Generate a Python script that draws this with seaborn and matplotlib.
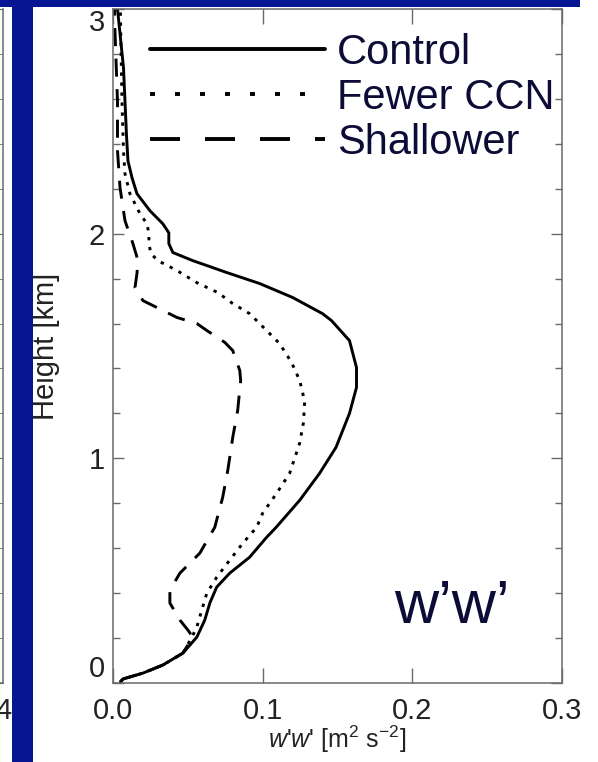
import numpy as np
import pandas as pd
import matplotlib
matplotlib.use("Agg")
import matplotlib.pyplot as plt
from matplotlib.lines import Line2D
from matplotlib.patches import Rectangle
from matplotlib.ticker import MultipleLocator, FormatStrFormatter
import seaborn as sns

# ---- data ----
control_h = [0.005, 0.018, 0.044, 0.08, 0.133, 0.204, 0.28, 0.356, 0.427, 0.489, 0.56, 0.649,
             0.693, 0.813, 0.933, 1.049, 1.2, 1.316, 1.404, 1.524, 1.613, 1.644, 1.716, 1.778,
             1.827, 1.88, 1.916, 1.956, 2.004, 2.044, 2.102, 2.178, 2.249, 2.324, 2.44, 2.74, 3.0]
control_w = [0.005, 0.0067, 0.020, 0.0333, 0.0467, 0.056, 0.0613, 0.0647, 0.0693, 0.078, 0.0913,
             0.1027, 0.109, 0.1247, 0.138, 0.149, 0.158, 0.1627, 0.1627, 0.158, 0.146, 0.140,
             0.120, 0.098, 0.076, 0.0533, 0.040, 0.0373, 0.0373, 0.0333, 0.0247, 0.016, 0.0127,
             0.010, 0.009, 0.007, 0.003]

fewer_h = [0.005, 0.018, 0.044, 0.08, 0.133, 0.204, 0.249, 0.324, 0.40, 0.471, 0.547, 0.622,
           0.693, 0.756, 0.844, 0.933, 1.067, 1.16, 1.249, 1.293, 1.347, 1.427, 1.511, 1.613,
           1.644, 1.689, 1.738, 1.782, 1.836, 1.88, 1.911, 1.956, 2.0, 2.044, 2.089, 2.178,
           2.267, 2.37, 2.59, 2.96, 3.0]
fewer_w = [0.005, 0.0067, 0.020, 0.0333, 0.0467, 0.0527, 0.056, 0.0593, 0.0627, 0.0693, 0.078,
           0.0867, 0.096, 0.100, 0.1093, 0.118, 0.1247, 0.1273, 0.128, 0.1267, 0.1247, 0.1193,
           0.1113, 0.096, 0.0913, 0.080, 0.070, 0.056, 0.0427, 0.030, 0.0253, 0.024, 0.024,
           0.0227, 0.018, 0.0113, 0.008, 0.007, 0.006, 0.005, 0.005]

shallow_h = [0.005, 0.018, 0.044, 0.08, 0.133, 0.204, 0.236, 0.28, 0.356, 0.413, 0.489, 0.578,
             0.693, 0.827, 0.947, 1.093, 1.213, 1.347, 1.391, 1.48, 1.516, 1.569, 1.6, 1.627,
             1.702, 1.76, 1.822, 1.88, 1.956, 2.058, 2.204, 2.37, 2.59, 2.96, 3.0]
shallow_w = [0.005, 0.0067, 0.020, 0.0333, 0.0467, 0.0533, 0.050, 0.0447, 0.038, 0.038, 0.0447,
             0.058, 0.068, 0.0733, 0.0767, 0.080, 0.0833, 0.0853, 0.0847, 0.080, 0.0747, 0.0627,
             0.056, 0.0427, 0.020, 0.0147, 0.016, 0.0167, 0.0133, 0.008, 0.0047, 0.003, 0.003,
             0.001, 0.001]

series_names = ["Control", "Fewer CCN", "Shallower"]
x_ticks = [0.0, 0.1, 0.2, 0.3]
y_ticks = [0, 1, 2, 3]

df = pd.concat([
    pd.DataFrame({"series": series_names[0], "w": control_w, "height": control_h}),
    pd.DataFrame({"series": series_names[1], "w": fewer_w, "height": fewer_h}),
    pd.DataFrame({"series": series_names[2], "w": shallow_w, "height": shallow_h}),
], ignore_index=True)

# ---- style ----
sns.set_style("ticks")
plt.rcParams["font.family"] = ["Liberation Sans", "DejaVu Sans"]
plt.rcParams["mathtext.fontset"] = "custom"
plt.rcParams["mathtext.rm"] = "Liberation Sans"
plt.rcParams["mathtext.it"] = "Liberation Sans:italic"
plt.rcParams["lines.scale_dashes"] = False

NAVY = "#061591"
TXT = "#0c0c36"
SPINE = "#6a6a6a"

W, H = 598, 762
fig = plt.figure(figsize=(W / 100, H / 100), dpi=100)
fig.patch.set_facecolor("white")

# main axes
ax = fig.add_axes([113 / W, (H - 683) / H, 449 / W, 674 / H])

dash_map = {"Control": "", "Fewer CCN": (2.4, 4.8), "Shallower": (13, 9)}
sns.lineplot(data=df, x="w", y="height", style="series", dashes=dash_map,
             color="black", linewidth=2.1, sort=False, estimator=None,
             orient="y", legend=False, ax=ax)
for ln in ax.lines:
    ln.set_solid_joinstyle("round")
    ln.set_dash_joinstyle("round")

ax.set_xlim(0, 0.3)
ax.set_ylim(0, 3)
ax.set_xticks(x_ticks)
ax.set_yticks(y_ticks)
ax.xaxis.set_major_formatter(FormatStrFormatter("%.1f"))
ax.yaxis.set_major_formatter(FormatStrFormatter("%d"))
ax.yaxis.set_minor_locator(MultipleLocator(0.2))
ax.tick_params(axis="both", which="both", direction="in", top=True, right=True,
               color=SPINE, width=1.0)
ax.tick_params(axis="x", which="major", length=11, labelsize=21, pad=10, labelcolor="#222222")
ax.tick_params(axis="y", which="major", length=8, labelsize=21, pad=6, labelcolor="#222222")
ax.tick_params(axis="y", which="minor", length=5)
for s in ax.spines.values():
    s.set_color(SPINE)
    s.set_linewidth(1.1)
ylabels = ax.get_yticklabels()
ylabels[0].set_verticalalignment("bottom")
ylabels[-1].set_verticalalignment("top")

ax.set_xlabel(r"$w$'$w$' [m$^2$ s$^{-2}$]", fontsize=18, color="#222222", labelpad=-1)
ax.set_ylabel("Height [km]", fontsize=21, color="#222222")
ax.yaxis.set_label_coords(-0.118, 0.5)

# legend
handles = [
    Line2D([], [], color="black", lw=2.8),
    Line2D([], [], color="black", lw=2.8, dashes=(3.6, 14.4)),
    Line2D([], [], color="black", lw=2.8, dashes=(21.6, 18)),
]
leg = ax.legend(handles, series_names, loc="upper left", bbox_to_anchor=(0.082, 0.965),
                frameon=False, fontsize=30, handlelength=4.2, handletextpad=0.3,
                labelspacing=0.12, borderpad=0, borderaxespad=0)
for t in leg.get_texts():
    t.set_color(TXT)

ax.text(0.188, 0.267, "w\u2019w\u2019", fontsize=44, color=TXT, ha="left", va="baseline")

# partial neighbouring panel on the left
axl = fig.add_axes([-0.3, (H - 683) / H, 0.3 + 3 / W, 674 / H])
axl.set_ylim(0, 3)
axl.set_xlim(0, 4)
axl.set_xticks([4])
axl.set_xticklabels(["4"])
axl.yaxis.set_minor_locator(MultipleLocator(0.2))
axl.set_yticks([0, 1, 2, 3])
axl.tick_params(axis="both", which="both", direction="in", left=False, labelleft=False,
                color=SPINE, right=True)
axl.tick_params(axis="x", labelsize=21, pad=10, length=0)
axl.tick_params(axis="y", which="major", length=8)
axl.tick_params(axis="y", which="minor", length=5)
axl.spines["top"].set_visible(False)
for s in axl.spines.values():
    s.set_color(SPINE)
    s.set_linewidth(1.1)

# slide decoration
fig.add_artist(Rectangle((0, (H - 7) / H), 580 / W, 7 / H, transform=fig.transFigure,
                         facecolor=NAVY, edgecolor="none", zorder=10))
fig.add_artist(Rectangle((12 / W, 0), 21 / W, 1, transform=fig.transFigure,
                         facecolor=NAVY, edgecolor="none", zorder=10))

fig.savefig("out.png", dpi=100)
